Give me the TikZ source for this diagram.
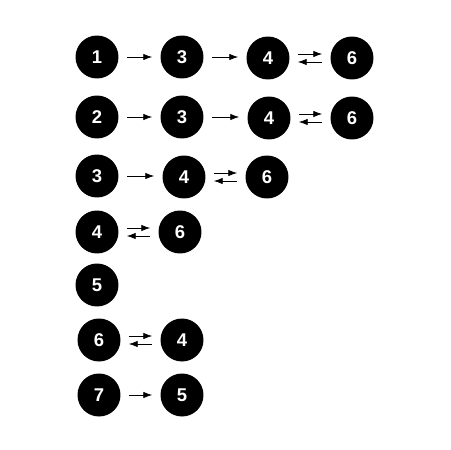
\documentclass[tikz,border=0pt]{standalone}
\usepackage{fontspec}
\newfontfamily\numfont{Liberation Sans}
\usetikzlibrary{arrows.meta}
\tikzset{
  num/.style={circle, fill=black, text=white, minimum size=0.86cm, inner sep=0pt,
    font=\numfont\bfseries\fontsize{10.5}{12}\selectfont},
  go/.style={-{Latex[length=5pt,width=3.6pt]}, thin, shorten <=0.16cm, shorten >=0.16cm}
}
\begin{document}
\begin{tikzpicture}[x=0.02cm, y=-0.02cm]
            \useasboundingbox (0,0) rectangle (450,450);
            % row 1
            \node[num] (r1a) at (97,57) {1};
            \node[num] (r1b) at (182,57) {3};
            \node[num] (r1c) at (268,58) {4};
            \node[num] (r1d) at (352,58) {6};
            % row 2
            \node[num] (r2a) at (97,117) {2};
            \node[num] (r2b) at (182,117) {3};
            \node[num] (r2c) at (269,118) {4};
            \node[num] (r2d) at (352,118) {6};
            % row 3
            \node[num] (r3a) at (97,176) {3};
            \node[num] (r3b) at (184,177) {4};
            \node[num] (r3c) at (267,177) {6};
            % rows 4 to 7
            \node[num] (r4a) at (97,232) {4};
            \node[num] (r4b) at (180,232) {6};
            \node[num] (r5a) at (97,285) {5};
            \node[num] (r6a) at (99,340) {6};
            \node[num] (r6b) at (182,340) {4};
            \node[num] (r7a) at (99,395) {7};
            \node[num] (r7b) at (182,395) {5};
            % one way arrows
            \foreach \a/\b in {r1a/r1b, r1b/r1c, r2a/r2b, r2b/r2c, r3a/r3b, r7a/r7b}
            \draw[go] (\a.east) -- (\a.east -| \b.west);
            % arrows both ways
            \foreach \a/\b in {r1c/r1d, r2c/r2d, r3b/r3c, r4a/r4b, r6a/r6b}
            {
            \draw[go] ([yshift=0.08cm]\a.east) -- ([yshift=0.08cm]\a.east -| \b.west);
            \draw[go] ([yshift=-0.08cm]\a.east -| \b.west) -- ([yshift=-0.08cm]\a.east);
            }
\end{tikzpicture}
\end{document}
